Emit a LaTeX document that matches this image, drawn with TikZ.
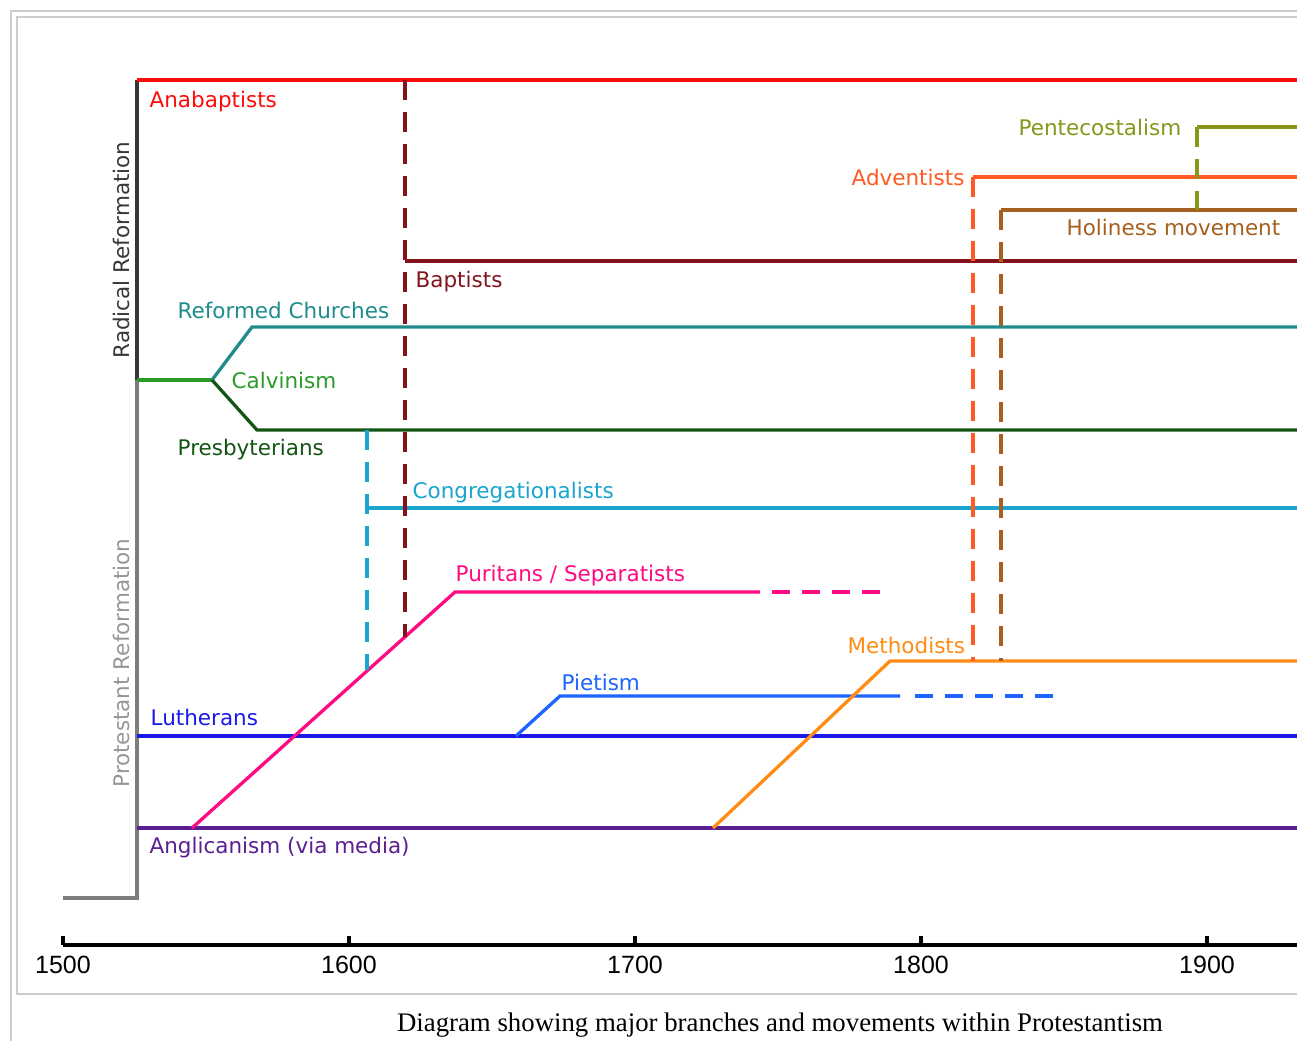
\documentclass[tikz,border=0pt]{standalone}
\usepackage{fontspec}
\newfontfamily\lblfont{DejaVu Sans}
\newfontfamily\yrfont{Liberation Sans}
\newfontfamily\capfont{Liberation Serif}
\definecolor{cAna}{RGB}{255,10,10}
\definecolor{cBap}{RGB}{130,20,30}
\definecolor{cRef}{RGB}{30,140,140}
\definecolor{cCal}{RGB}{40,155,40}
\definecolor{cPres}{RGB}{20,85,20}
\definecolor{cCong}{RGB}{25,165,205}
\definecolor{cPur}{RGB}{255,10,130}
\definecolor{cMeth}{RGB}{255,140,20}
\definecolor{cAdv}{RGB}{255,90,35}
\definecolor{cHol}{RGB}{165,95,30}
\definecolor{cPent}{RGB}{135,150,25}
\definecolor{cPiet}{RGB}{30,100,255}
\definecolor{cLuth}{RGB}{25,25,235}
\definecolor{cAng}{RGB}{90,30,145}
\definecolor{cRad}{RGB}{55,55,55}
\definecolor{cProt}{RGB}{125,125,125}
\definecolor{cProtTxt}{RGB}{150,150,150}
\definecolor{cFrame}{RGB}{205,205,205}
\begin{document}
\begin{tikzpicture}[x=1pt,y=-1pt,line width=3.3pt,line join=miter,
  lbl/.style={font=\lblfont\fontsize{21.5}{26}\selectfont,inner sep=0pt,anchor=base west},
  side/.style={font=\lblfont\fontsize{21.5}{26}\selectfont,inner sep=0pt,anchor=base,rotate=90},
  yr/.style={font=\yrfont\fontsize{25}{30}\selectfont,inner sep=0pt,anchor=base},
  dsh/.style={dash pattern=on 20pt off 12pt},
  dshh/.style={dash pattern=on 18pt off 12pt},
  frame/.style={draw=cFrame,line width=2pt}]
\useasboundingbox (0,0) rectangle (1297,1041);
% frames
\draw[frame] (11,1041) -- (11,11) -- (1297,11);
\draw[frame] (1297,994) -- (17,994) -- (17,17) -- (1297,17);

% axis bar
\coordinate (top) at (137,80);
\coordinate (mid) at (137,380);
\coordinate (bot) at (137,898);
\coordinate (botl) at (63,898);
\draw[cRad] (top) -- (mid);
\draw[cProt] (mid) -- (bot) -- (botl);
\node[side,text=cRad] (rad) at (129,250) {Radical Reformation};
\node[side,text=cProtTxt] (prot) at (129,663) {Protestant Reformation};

% main branches
\draw[cAna] (top) -- (1297,80);
\node[lbl,text=cAna] (ana) at (148,107) {Anabaptists};

\coordinate (split) at (212,380);
\draw[cCal] (mid) -- (split);
\node[lbl,text=cCal] (cal) at (230,388) {Calvinism};
\draw[cRef] (split) -- (252,327) -- (1297,327);
\node[lbl,text=cRef] (ref) at (176,318) {Reformed Churches};
\draw[cPres] (split) -- (257,430) -- (1297,430);
\node[lbl,text=cPres] (pres) at (176,455) {Presbyterians};

\coordinate (bapS) at (405,261);
\draw[cBap] (bapS) -- (1297,261);
\node[lbl,text=cBap] (bap) at (414,287) {Baptists};

\coordinate (congS) at (367,508);
\draw[cCong] (congS) -- (1297,508);
\node[lbl,text=cCong] (cong) at (411,498) {Congregationalists};

\draw[cLuth] (137,736) -- (1297,736);
\node[lbl,text=cLuth] (luth) at (149,725) {Lutherans};

\draw[cAng] (137,828) -- (1297,828);
\node[lbl,text=cAng] (ang) at (148,853) {Anglicanism (via media)};

% Puritans
\coordinate (purA) at (192,828);
\coordinate (purB) at (455,592);
\draw[cPur] (purA) -- (purB) -- (760,592);
\draw[cPur,dshh] (772,592) -- (882,592);
\node[lbl,text=cPur] (pur) at (454,581) {Puritans / Separatists};

% Pietism
\draw[cPiet] (516,736) -- (560,696) -- (900,696);
\draw[cPiet,dshh] (915,696) -- (1055,696);
\node[lbl,text=cPiet] (piet) at (560,690) {Pietism};

% Methodists
\coordinate (methA) at (713,828);
\coordinate (methB) at (890,661);
\draw[cMeth] (methA) -- (methB) -- (1297,661);
\node[lbl,text=cMeth] (meth) at (846,653) {Methodists};

% Adventists / Holiness / Pentecostalism
\coordinate (advS) at (973,177);
\draw[cAdv] (advS) -- (1297,177);
\node[lbl,text=cAdv] (adv) at (850,185) {Adventists};
\coordinate (holS) at (1001,210);
\draw[cHol] (holS) -- (1297,210);
\node[lbl,text=cHol] (hol) at (1065,235) {Holiness movement};
\coordinate (penS) at (1197,127);
\draw[cPent] (penS) -- (1297,127);
\node[lbl,text=cPent] (pen) at (1017,135) {Pentecostalism};

% dashed derivations
\draw[cBap,dsh] (405,80) -- (405,637);
\draw[cCong,dsh] (367,430) -- (367,670);
\draw[cAdv,dsh] (advS) -- (973,661);
\draw[cHol,dsh] (holS) -- (1001,661);
\draw[cPent,dsh] (penS) -- (1197,210);

% time axis
\draw[black] (63,945) -- (1297,945);
\foreach \x/\y in {63/1500,349/1600,635/1700,921/1800,1207/1900}{
  \draw[black] (\x,936) -- (\x,945);
  \node[yr] (y\y) at (\x,973) {\y};
}
\node[font=\capfont\fontsize{26.8}{30}\selectfont,inner sep=0pt,anchor=base] (cap) at (780,1031) {Diagram showing major branches and movements within Protestantism};
\end{tikzpicture}
\end{document}
